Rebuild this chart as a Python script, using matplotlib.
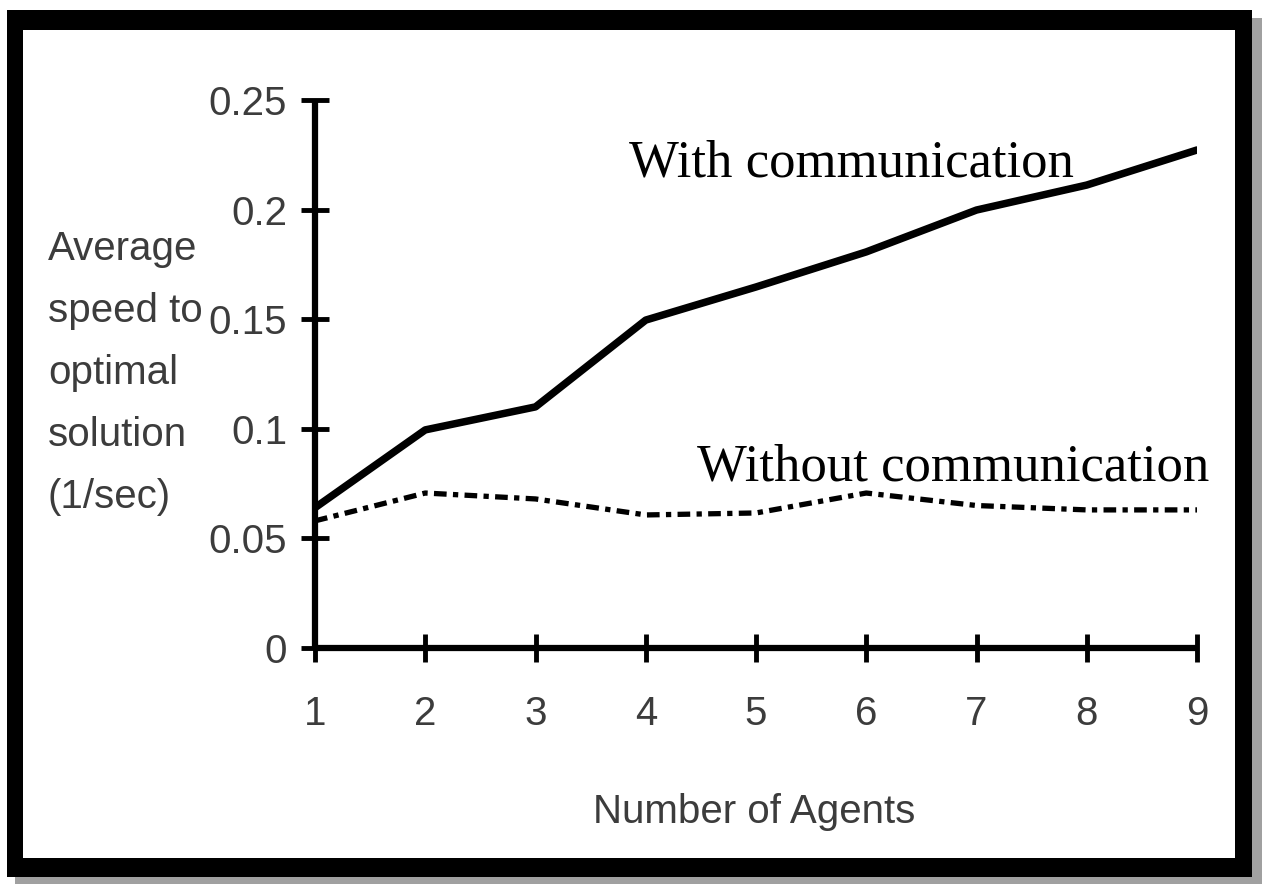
import matplotlib
matplotlib.use('Agg')
import matplotlib.pyplot as plt
from matplotlib.patches import Rectangle

# values
agents = [1, 2, 3, 4, 5, 6, 7, 8, 9]
with_comm = [0.064, 0.0995, 0.110, 0.1496, 0.1647, 0.1807, 0.1998, 0.2112, 0.2272]
without_comm = [0.058, 0.0707, 0.0680, 0.0607, 0.0616, 0.0707, 0.0650, 0.0630, 0.0630]
y_ticks = [0, 0.05, 0.1, 0.15, 0.2, 0.25]
y_tick_labels = ['0', '0.05', '0.1', '0.15', '0.2', '0.25']
ylabel_lines = ['Average', 'speed to', 'optimal', 'solution', '(1/sec)']

W, H = 1262, 884
sans = ['Liberation Sans', 'DejaVu Sans']
serif = ['Liberation Serif', 'DejaVu Serif']
grey = '#3c3c3c'
fs = 29  # sans text size, the original font is narrower so keep this a bit small

fig = plt.figure(figsize=(W / 100, H / 100), dpi=100)
fig.patch.set_facecolor('white')


def px_rect(x0, y0, x1, y1, color, z):
    # rectangle given in pixel coords (origin top-left)
    r = Rectangle((x0 / W, 1 - y1 / H), (x1 - x0) / W, (y1 - y0) / H,
                  transform=fig.transFigure, facecolor=color,
                  edgecolor='none', zorder=z)
    fig.patches.append(r)


# frame with a little grey shadow
px_rect(15, 18, W, H, '#a0a0a0', -30)
px_rect(7, 10, 1252, 877, 'black', -20)
px_rect(23, 30, 1235, 858, 'white', -10)

# axes placed so x=1..9 and y=0..0.25 land where they are in the picture
ax = fig.add_axes([315 / W, 1 - 648 / H, (1197 - 315) / W, (648 - 100) / H])
ax.patch.set_alpha(0)
ax.plot(agents, with_comm, color='black', lw=5.4, solid_joinstyle='round',
        solid_capstyle='round', zorder=3)
ax.plot(agents, without_comm, color='black', lw=3.8,
        ls=(0, (2.4, 1.2, 1.0, 1.2)), zorder=3)

ax.set_xlim(1, 9)
ax.set_ylim(0, 0.25)
ax.set_xticks(agents)
ax.set_yticks(y_ticks)
ax.set_yticklabels(y_tick_labels)
for s in ['top', 'right']:
    ax.spines[s].set_visible(False)
for s in ['left', 'bottom']:
    ax.spines[s].set_linewidth(4.5)
    ax.spines[s].set_capstyle('butt')
ax.tick_params(direction='inout', length=20, width=3.5, colors='black')
ax.tick_params(axis='y', pad=10)
ax.tick_params(axis='x', pad=24)
for lab in ax.get_xticklabels() + ax.get_yticklabels():
    lab.set_family(sans)
    lab.set_fontsize(fs)
    lab.set_color(grey)

# series labels (serif, like the original)
ax.text(3.85, 0.2149, 'With communication', family=serif, fontsize=38,
        ha='left', va='baseline', color='black')
ax.text(4.465, 0.0766, 'Without communication', family=serif, fontsize=38,
        ha='left', va='baseline', color='black')

# axis titles
fig.text(754 / W, 1 - 823 / H, 'Number of Agents', family=sans, fontsize=fs,
         ha='center', va='baseline', color=grey)
for i, line in enumerate(ylabel_lines):
    fig.text(48 / W, 1 - (260 + 62 * i) / H, line, family=sans, fontsize=fs,
             ha='left', va='baseline', color=grey)

fig.savefig('out.png', dpi=100)
